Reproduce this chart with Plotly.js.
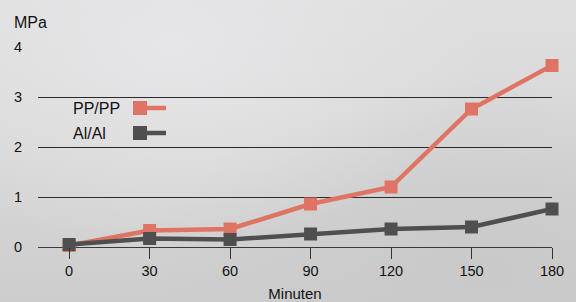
<!DOCTYPE html>
<html>
<head>
<meta charset="utf-8">
<script src="https://cdn.plot.ly/plotly-3.0.1.min.js"></script>
<style>
html,body{margin:0;padding:0;}
body{width:576px;height:302px;overflow:hidden;
background:
 radial-gradient(ellipse at 30% 15%, #e6e6e8 0%, rgba(230,230,232,0) 55%),
 radial-gradient(ellipse at 85% 90%, #c9c9c9 0%, rgba(201,201,201,0) 50%),
 linear-gradient(180deg,#dfdfe0 0%,#d6d6d6 60%,#cdcdcd 100%);}
#chart{width:576px;height:302px;}
</style>
</head>
<body>
<div id="chart"></div>
<script>
const minutes = [0, 30, 60, 90, 120, 150, 180];
const ppValues = [0.03, 0.33, 0.36, 0.86, 1.2, 2.76, 3.63];
const alValues = [0.05, 0.17, 0.15, 0.26, 0.36, 0.40, 0.76];
const seriesNames = ['PP/PP', 'Al/Al'];
const seriesColors = ['#e07464', '#4f4f4f'];
const yTicks = [0, 1, 2, 3, 4];

const W = 576, H = 302;
const M = {l: 38, r: 24, t: 47, b: 55};
const pw = W - M.l - M.r, ph = H - M.t - M.b;
const px = x => (x - M.l) / pw;
const py = y => (H - M.b - y) / ph;
const font = 'Liberation Sans, Arial, Helvetica, sans-serif';

function trace(vals, i) {
  return {
    x: minutes, y: vals, type: 'scatter', mode: 'lines+markers', name: seriesNames[i],
    line: {color: seriesColors[i], width: 4.5},
    marker: {symbol: 'square', size: 13, color: seriesColors[i]},
    cliponaxis: false, showlegend: false
  };
}

const legendY = [108, 133];
const shapes = [], annotations = [];
seriesNames.forEach((n, i) => {
  shapes.push({type: 'line', xref: 'paper', yref: 'paper',
    x0: px(140), x1: px(166), y0: py(legendY[i]), y1: py(legendY[i]),
    line: {color: seriesColors[i], width: 4.5}});
  shapes.push({type: 'rect', xref: 'paper', yref: 'paper',
    x0: px(133), x1: px(147), y0: py(legendY[i] - 7), y1: py(legendY[i] + 7),
    fillcolor: seriesColors[i], line: {width: 0}});
  annotations.push({xref: 'paper', yref: 'paper', x: px(71), y: py(legendY[i]),
    xanchor: 'left', yanchor: 'middle', text: n, showarrow: false,
    font: {family: font, size: 16, color: '#111'}});
});
annotations.push({xref: 'paper', yref: 'paper', x: px(12), y: py(23),
  xanchor: 'left', yanchor: 'middle', text: 'MPa', showarrow: false,
  font: {family: font, size: 16, color: '#111'}});

const layout = {
  width: W, height: H,
  margin: M,
  paper_bgcolor: 'rgba(0,0,0,0)', plot_bgcolor: 'rgba(0,0,0,0)',
  font: {family: font, size: 14, color: '#111'},
  showlegend: false,
  xaxis: {
    range: [-11.6, 180], tickvals: minutes, ticktext: minutes.map(String),
    showgrid: false, zeroline: false, showline: false,
    ticks: 'outside', ticklen: 11, tickcolor: '#333', tickwidth: 1,
    tickfont: {size: 14.5},
    title: {text: 'Minuten', font: {size: 15}, standoff: 11}
  },
  yaxis: {
    range: [0, 4], tickvals: yTicks, ticktext: yTicks.map(String),
    showgrid: true, gridcolor: '#2a2a2a', gridwidth: 1,
    zeroline: true, zerolinecolor: '#3a3a3a', zerolinewidth: 1,
    showline: false, ticks: '', ticklabelstandoff: 15,
    tickfont: {size: 14.5}
  },
  shapes: shapes,
  annotations: annotations
};

Plotly.newPlot('chart', [trace(ppValues, 0), trace(alValues, 1)], layout, {displayModeBar: false, staticPlot: true});
</script>
</body>
</html>
